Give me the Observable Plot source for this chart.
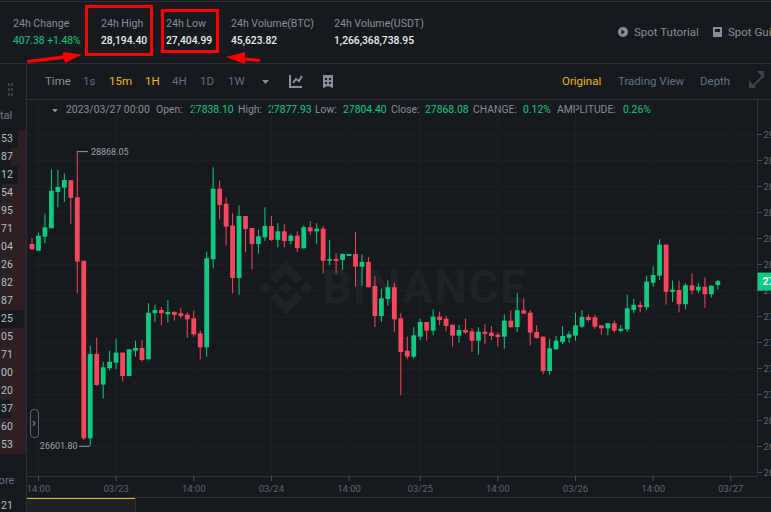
<!DOCTYPE html>
<html><head><meta charset="utf-8">
<script src="https://cdn.jsdelivr.net/npm/d3@7"></script>
<script src="https://cdn.jsdelivr.net/npm/@observablehq/plot@0.6"></script>
<style>
html,body{margin:0;padding:0;background:#161a1e;width:771px;height:512px;overflow:hidden;font-family:Roboto,"Noto Sans",sans-serif}
#page{position:relative;width:771px;height:512px;overflow:hidden}
.t{position:absolute;white-space:nowrap;line-height:14px;font-size:11.5px;color:#848e9c}
.g{color:#0ecb81}.w{color:#eaecef;font-weight:500}.y{color:#f0b90b}.b{color:#5e7290}
.ln{position:absolute;background:#2b3037}
#chart{position:absolute;left:0;top:99px}
#chart svg{display:block;background:transparent}
.box{position:absolute;border:3px solid #f00;box-sizing:border-box}
</style></head><body><div id="page"></div>
<script>
const open_ = [28154,28102,28210,28275,28554,28587,28644,28513,28025,26659,27308,27072,27198,27241,27318,27138,27333,27354,27267,27621,27646,27613,27631,27621,27610,27582,27467,27359,28036,28579,28464,28295,27892,28369,28277,28154,28205,28292,28185,28251,28177,28218,28121,28282,28251,28272,28025,28038,28031,28062,28077,27979,28015,27831,27600,27731,27821,27582,27333,27287,27441,27554,27487,27595,27579,27533,27449,27492,27482,27410,27479,27472,27456,27441,27564,27515,27644,27625,27477,27441,27177,27344,27400,27433,27449,27518,27592,27590,27528,27505,27544,27485,27497,27646,27685,27667,27856,27910,28149,27785,27800,27690,27836,27797,27825,27767,27838.10];
const close_ = [28113,28218,28282,28562,28592,28646,28508,28018,26659,27308,27069,27205,27248,27318,27138,27344,27354,27262,27625,27646,27621,27631,27608,27600,27574,27459,27359,28044,28579,28454,28287,27892,28369,28269,28154,28213,28292,28185,28251,28177,28218,28121,28282,28251,28272,28025,28038,28023,28077,28077,27979,28015,27821,27600,27736,27821,27574,27323,27287,27451,27554,27487,27595,27569,27523,27449,27492,27472,27410,27479,27462,27446,27438,27564,27513,27644,27618,27472,27431,27177,27351,27410,27446,27459,27528,27592,27569,27518,27505,27544,27487,27502,27659,27685,27667,27864,27915,28149,27785,27802,27690,27836,27797,27825,27767,27833,27868.08];
const high_ = [28198,28241,28385,28728,28723,28697,28644,28868.05,28025,27372,27433,27248,27333,27425,27318,27346,27410,27415,27698,27687,27667,27723,27638,27662,27625,27641,27487,28095,28744,28641,28510,28390,28451,28369,28277,28262,28436,28369,28313,28305,28231,28251,28297,28331,28313,28292,28185,28082,28082,28077,28246,28074,28054,27905,27810,27874,27856,27621,27441,27513,27579,27554,27651,27633,27600,27533,27531,27579,27505,27513,27536,27523,27472,27613,27644,27779,27733,27646,27531,27441,27425,27446,27523,27482,27625,27646,27613,27610,27528,27544,27564,27531,27762,27731,27713,27910,27982,28190,28149,27872,27872,27851,27928,27851,27897,27833,27877.93];
const low_ = [28108,28102,28159,28275,28436,28477,28308,27775,26646,26601.80,27062,26964,27179,27190,27095,27136,27287,27248,27267,27554,27528,27551,27564,27582,27431,27441,27267,27287,27967,28344,28141,27775,27764,28090,27959,28079,28177,28177,28128,28128,28151,28092,28118,28225,28154,27928,27990,27928,27954,28062,27825,27833,27821,27515,27554,27679,27479,26990,27267,27274,27415,27410,27451,27531,27482,27364,27395,27462,27325,27302,27385,27415,27364,27348,27513,27477,27618,27374,27425,27151,27149,27338,27382,27395,27410,27508,27556,27500,27456,27451,27472,27474,27479,27621,27628,27644,27825,27877,27687,27708,27628,27651,27764,27775,27662,27741,27804.40];

const xTickIndex = [1,13,25,37,49,60,72,84,96,108];
const xTickLabels = ["14:00","03/23","14:00","03/24","14:00","03/25","14:00","03/26","14:00","03/27"];
const yTicks = [26400,26600,26800,27000,27200,27400,27600,27800,28000,28200,28400,28600,28800,29000];
const bookTails = ["53","87","12","54","95","71","04","26","82","87","25","05","71","00","20","37","60","53"];
const bookGaps = [18,11,18,2,0,0,0,0,0,0,24,0,0,0,0,11,0,0];

const rows = open_.map((o,i)=>({i,open:o,close:close_[i],high:high_[i],low:low_[i],dir:close_[i]>=o?"up":"down"}));
const page = document.getElementById("page");
function el(cls,left,top,txt,extra){const d=document.createElement("div");d.className=cls;d.style.left=left+"px";d.style.top=top+"px";if(txt!=null)d.textContent=txt;if(extra)d.style.cssText+=extra;page.appendChild(d);return d;}
function line(l,t,w,h,c){el("ln",l,t,null,`width:${w}px;height:${h}px;`+(c?`background:${c};`:""));}

// left order-book remnant
bookTails.forEach((s,k)=>{
  const top=130+k*18;
  el("ln",bookGaps[k],top,null,`width:${26-bookGaps[k]}px;height:18px;background:#2d1f24;`);
  el("t",1,top+2,s,"color:#b7bdc6;font-size:10.5px;");
});
el("t",0,109,"tal","color:#6e7a8a;font-size:11px;");
el("t",-11,474,"More","color:#5e7290;font-size:11px;");
el("t",1,499,"21","color:#b7bdc6;font-size:10.5px;");

// frame lines
line(0,1,771,1,"#2b3037");line(0,63,771,1,"#2b3037");line(27,99,744,1,"#2b3037");line(26,63,1,449,"#2b3037");
line(27,497,744,1,"#2b3037");line(27,498,108,14,"#1e2228");line(27,498,108,1,"#f0b90b");line(135,498,1,14,"#2b3037");

// header
[[13,"24h Change","407.38 +1.48%","g"],[101,"24h High","28,194.40","w"],[166,"24h Low","27,404.99","w"],[231,"24h Volume(BTC)","45,623.82","w"],[334,"24h Volume(USDT)","1,266,368,738.95","w"]].forEach(([x,a,b,c])=>{
  el("t",x,17,a,"font-size:10.6px;");el("t "+c,x,34,b,"font-size:10.3px;");
});
el("t",634,25,"Spot Tutorial");el("t",728,25,"Spot Guide");
// toolbar
[[45,"Time",""],[83,"1s","b"],[109,"15m","y"],[145,"1H","y"],[172,"4H","b"],[200,"1D","b"],[228,"1W","b"],[618,"Trading View","b"],[700,"Depth","b"]].forEach(([x,s,c])=>el("t "+c,x,74,s));
el("t y",562,74,"Original");
// info row
[[66,"2023/03/27 00:00",""],[156,"Open:",""],[190,"27838.10","g"],[238,"High:",""],[268,"27877.93","g"],[315,"Low:",""],[343,"27804.40","g"],[391,"Close:",""],[425,"27868.08","g"],[473,"CHANGE:",""],[523,"0.12%","g"],[557,"AMPLITUDE:",""],[623,"0.26%","g"]].forEach(([x,s,c])=>el("t "+c,x,103,s,"font-size:10.4px;"));

// watermark
const wm=document.createElement("div");wm.style.cssText="position:absolute;left:259px;top:261px;";
wm.innerHTML='<svg width="54" height="54" viewBox="0 0 126 126"><path fill="#1f2227" d="M38.171 53.203 62.759 28.616l24.6 24.6 14.307-14.307L62.759 0 23.864 38.896zM0 62.759l14.307-14.307L28.614 62.759 14.307 77.066zM38.171 72.315l24.588 24.587 24.6-24.6 14.307 14.3L62.759 125.517 23.864 86.623zM96.903 62.759l14.307-14.307 14.307 14.307-14.307 14.307zM77.271 62.759 62.759 48.247 52.03 58.976 50.797 60.21l-2.524 2.549L62.759 77.271z"/></svg>';
page.appendChild(wm);
el("t",322,265,"BINANCE","font-size:46px;line-height:44px;font-weight:700;color:#1f2227;letter-spacing:1.5px;");

// chart
const xDomain=[-0.696,112.13], yDomain=[26369,29269];
const gridC="#1d2127", axisC="#2f343b", tickC="#4a515a", labelC="#5e6673";
const plot = Plot.plot({
  width:771,height:413,marginLeft:27,marginRight:14,marginTop:0,marginBottom:36,
  style:{background:"transparent",fontFamily:"Roboto, sans-serif",fontSize:"9.5px",overflow:"visible"},
  x:{domain:xDomain,axis:null},
  y:{domain:yDomain,axis:null},
  color:{domain:["up","down"],range:["#0ecb81","#f6465d"]},
  marks:[
    Plot.gridX(xTickIndex,{stroke:gridC,strokeOpacity:1}),
    Plot.gridY(yTicks,{stroke:gridC,strokeOpacity:1}),
    Plot.ruleY([yDomain[0]],{stroke:axisC}),
    Plot.ruleX([xDomain[1]],{stroke:axisC}),
    Plot.axisX(xTickIndex,{tickSize:5,tickPadding:4,stroke:tickC,fill:labelC,fontSize:9.5,tickFormat:(d)=>xTickLabels[xTickIndex.indexOf(d)],label:null}),
    Plot.axisY(yTicks,{anchor:"right",tickSize:4,tickPadding:2,stroke:tickC,fill:labelC,fontSize:9.5,tickFormat:d=>String(d),label:null}),
    Plot.ruleX(rows,{x:"i",y1:"low",y2:"high",stroke:"dir",strokeWidth:1}),
    Plot.ruleX(rows,{x:"i",y1:"open",y2:"close",stroke:"dir",strokeWidth:4.8}),
    Plot.ruleY([high_[7]],{x1:7.05,x2:8.7,stroke:"#9aa0a8",strokeWidth:1}),
    Plot.text(["28868.05"],{x:[9.1],y:[high_[7]],text:d=>d,textAnchor:"start",fill:"#9aa0a8",fontSize:9}),
    Plot.ruleY([low_[9]],{x1:7.35,x2:9,stroke:"#9aa0a8",strokeWidth:1}),
    Plot.text(["26601.80"],{x:[7.05],y:[low_[9]],text:d=>d,textAnchor:"end",fill:"#9aa0a8",fontSize:9}),
    Plot.ruleY([close_[106]],{x1:112.2,x2:115,stroke:"#0ecb81",strokeWidth:18}),
    Plot.text(["27868.08"],{x:[112.9],y:[close_[106]],text:d=>d,textAnchor:"start",fill:"#ffffff",fontWeight:700,fontSize:10.5})
  ]
});
const host=document.createElement("div");host.id="chart";host.appendChild(plot);page.appendChild(host);

// button + red annotations + icons
el("t",29.5,409,"›","width:9px;height:28.5px;border:1px solid #5e6673;border-radius:4px;box-sizing:border-box;background:#161a1e;text-align:center;line-height:26px;color:#848e9c;font-size:13px;font-weight:700;");
el("box",85,5,null,"width:68px;height:51px;");
el("box",161,9,null,"width:58px;height:44px;");
const ov=document.createElement("div");ov.style.cssText="position:absolute;left:0;top:0;width:771px;height:512px;pointer-events:none;";
ov.innerHTML=`<svg width="771" height="512" style="position:absolute;left:0;top:0">
<path d="M27 60 L63 55.5 L63 52 L82 54.5 L65 63 L64 59 L27.5 63Z" fill="#f00"/>
<path d="M260 59 L245 57.5 L245 52 L226 57 L245 64 L245 60.5 L260 62Z" fill="#f00"/>
<path d="M262 80h7l-3.5 4z" fill="#848e9c"/>
<path d="M52 109h6l-3 3.5z" fill="#848e9c"/>
<circle cx="623" cy="32" r="5" fill="#848e9c"/><path d="M621.5 29.5v5l3.5-2.5z" fill="#161a1e"/>
<rect x="713" y="27" width="9" height="10" fill="#848e9c"/><rect x="715" y="29" width="5" height="3" fill="#161a1e"/>
<path d="M290 75v12h12M293 83l3-4 3 2 3-5" fill="none" stroke="#848e9c" stroke-width="2"/>
<path d="M323 75h10v13l-5-2-5 2z" fill="#848e9c"/><path d="M325 78h2v2h-2zM329 78h2v2h-2zM325 82h2v2h-2zM329 82h2v2h-2z" fill="#161a1e"/>
<path d="M752 87l11-11M763 72h-4l4 4zM750 87v-4l4 4z" stroke="#3c434d" stroke-width="2" fill="#3c434d"/>
<g fill="#3a4048"><rect x="8" y="83" width="2" height="3"/><rect x="8" y="88" width="2" height="3"/><rect x="8" y="93" width="2" height="3"/><rect x="11" y="83" width="2" height="3"/><rect x="11" y="88" width="2" height="3"/><rect x="11" y="93" width="2" height="3"/></g>
</svg>`;
page.appendChild(ov);
</script></body></html>
